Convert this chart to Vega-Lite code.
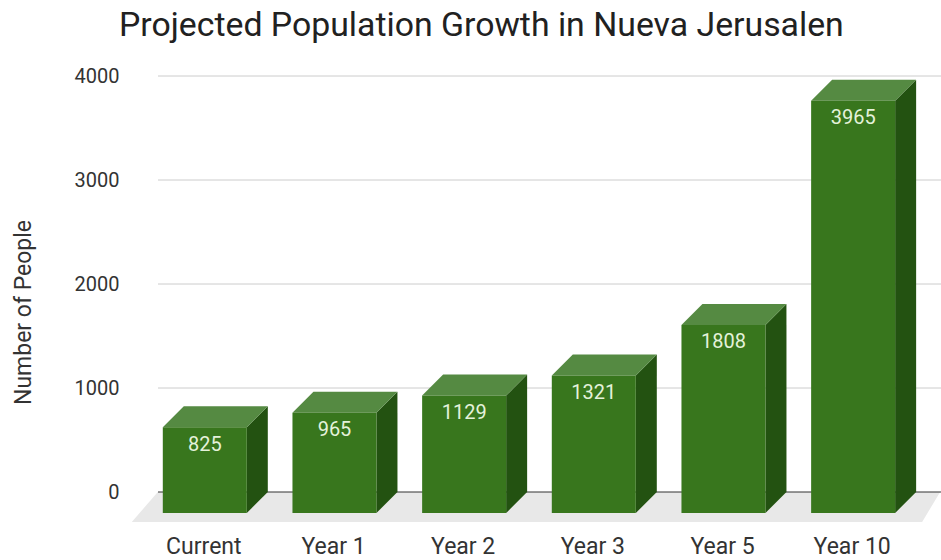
{
  "$schema": "https://vega.github.io/schema/vega-lite/v6.json",
  "width": 783,
  "height": 416,
  "autosize": {"type": "none"},
  "padding": {"left": 158, "top": 76, "right": 0, "bottom": 68},
  "background": "white",
  "title": {
    "text": "Projected Population Growth in Nueva Jerusalen",
    "anchor": "start",
    "frame": "group",
    "dx": -39,
    "offset": 23,
    "font": "Roboto",
    "fontSize": 33.8,
    "fontWeight": "normal",
    "color": "#212121"
  },
  "config": {"view": {"stroke": null}},
  "datasets": {
    "population": [
      {"period": "Current", "people": 825},
      {"period": "Year 1", "people": 965},
      {"period": "Year 2", "people": 1129},
      {"period": "Year 3", "people": 1321},
      {"period": "Year 5", "people": 1808},
      {"period": "Year 10", "people": 3965}
    ],
    "floorEnds": [
      {"period": "Current", "corner": 0},
      {"period": "Year 10", "corner": 1},
      {"period": "Year 10", "corner": 2},
      {"period": "Current", "corner": 3}
    ],
    "gridLevels": [
      {"level": 0}, {"level": 1000}, {"level": 2000}, {"level": 3000}, {"level": 4000}
    ]
  },
  "encoding": {
    "x": {
      "field": "period",
      "type": "nominal",
      "sort": ["Current", "Year 1", "Year 2", "Year 3", "Year 5", "Year 10"],
      "scale": {"range": [-18, 760], "paddingInner": 0, "paddingOuter": 0},
      "axis": {
        "title": null,
        "labelAngle": 0,
        "domain": false,
        "ticks": false,
        "labelPadding": 43,
        "labelFont": "Roboto",
        "labelFontSize": 23,
        "labelColor": "#333333",
        "labelOffset": -1
      }
    }
  },
  "layer": [
    {
      "data": {"name": "gridLevels"},
      "transform": [{"filter": "datum.level > 0"}],
      "mark": {"type": "rule", "color": "#cccccc", "strokeWidth": 1},
      "encoding": {
        "x": null,
        "y": {
          "field": "level",
          "type": "quantitative",
          "scale": {"domain": [0, 4000], "nice": false},
          "axis": {
            "title": "Number of People",
            "titleFont": "Roboto",
            "titleFontSize": 23,
            "titleFontWeight": "normal",
            "titleColor": "#333333",
            "titleX": -123,
            "titleY": 236,
            "values": [0, 1000, 2000, 3000, 4000],
            "format": "d",
            "domain": false,
            "ticks": false,
            "grid": false,
            "labelPadding": 39,
            "labelFont": "Roboto",
            "labelFontSize": 20,
            "labelColor": "#333333"
          }
        }
      }
    },
    {
      "data": {"name": "floorEnds"},
      "transform": [
        {"calculate": "[-47, 87, 69, -73][datum.corner]", "as": "dx"},
        {"calculate": "[0, 0, -288, -288][datum.corner]", "as": "level"}
      ],
      "mark": {"type": "line", "filled": true, "fill": "#e8e8e8", "stroke": null, "strokeWidth": 0},
      "encoding": {
        "y": {"field": "level", "type": "quantitative"},
        "xOffset": {"field": "dx", "type": "quantitative", "scale": {"domain": [-100, 100], "range": [-35.2, 164.8], "zero": false, "nice": false}},
        "order": {"field": "corner", "type": "quantitative"}
      }
    },
    {
      "data": {"name": "gridLevels"},
      "transform": [{"filter": "datum.level == 0"}],
      "mark": {"type": "rule", "color": "#333333", "strokeWidth": 1.2},
      "encoding": {
        "x": null,
        "y": {"field": "level", "type": "quantitative"}
      }
    },
    {
      "data": {"name": "population"},
      "transform": [
        {"calculate": "[0, 1, 2, 3]", "as": "corner"},
        {"flatten": ["corner"]},
        {"calculate": "[42, 63, 63, 42][datum.corner]", "as": "dx"},
        {"calculate": "[datum.people - 202, datum.people, 0, -202][datum.corner]", "as": "level"}
      ],
      "mark": {"type": "line", "filled": true, "fill": "#235211", "stroke": null, "strokeWidth": 0},
      "encoding": {
        "y": {"field": "level", "type": "quantitative"},
        "xOffset": {"field": "dx", "type": "quantitative"},
        "detail": {"field": "period"},
        "order": {"field": "corner", "type": "quantitative"}
      }
    },
    {
      "data": {"name": "population"},
      "transform": [
        {"calculate": "[0, 1, 2, 3]", "as": "corner"},
        {"flatten": ["corner"]},
        {"calculate": "[-42, 42, 63, -21][datum.corner]", "as": "dx"},
        {"calculate": "[datum.people - 202, datum.people - 202, datum.people, datum.people][datum.corner]", "as": "level"}
      ],
      "mark": {"type": "line", "filled": true, "fill": "#558a42", "stroke": null, "strokeWidth": 0},
      "encoding": {
        "y": {"field": "level", "type": "quantitative"},
        "xOffset": {"field": "dx", "type": "quantitative"},
        "detail": {"field": "period"},
        "order": {"field": "corner", "type": "quantitative"}
      }
    },
    {
      "data": {"name": "population"},
      "transform": [
        {"calculate": "[0, 1, 2, 3]", "as": "corner"},
        {"flatten": ["corner"]},
        {"calculate": "[-42, 42, 42, -42][datum.corner]", "as": "dx"},
        {"calculate": "[datum.people - 202, datum.people - 202, -202, -202][datum.corner]", "as": "level"}
      ],
      "mark": {"type": "line", "filled": true, "fill": "#38761d", "stroke": null, "strokeWidth": 0},
      "encoding": {
        "y": {"field": "level", "type": "quantitative"},
        "xOffset": {"field": "dx", "type": "quantitative"},
        "detail": {"field": "period"},
        "order": {"field": "corner", "type": "quantitative"}
      }
    },
    {
      "data": {"name": "population"},
      "mark": {"type": "text", "font": "Roboto", "fontSize": 20, "color": "#e4f2da", "baseline": "middle", "yOffset": 38.5},
      "encoding": {
        "y": {"field": "people", "type": "quantitative"},
        "text": {"field": "people", "type": "quantitative", "format": "d"}
      }
    }
  ]
}
